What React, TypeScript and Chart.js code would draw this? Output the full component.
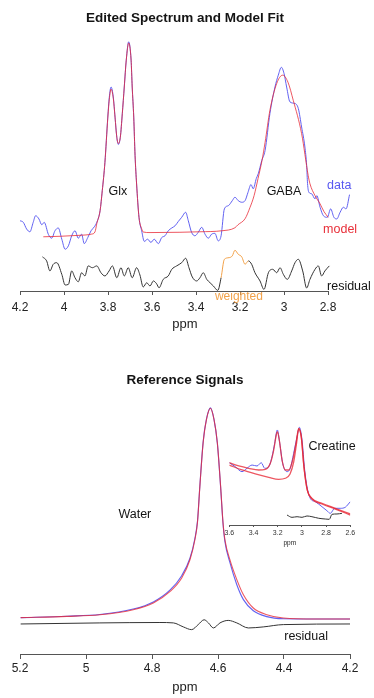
import React, { useEffect, useRef } from "react";
import { Chart, registerables } from "chart.js";

Chart.register(...registerables);

// ---------- Top panel: edited spectrum [ppm, intensity] ----------
const editedData: [number, number][] = [
  [4.2, 6.0], [4.185, 5.2], [4.17, 1.9], [4.155, 0.5], [4.14, 5.2], [4.129, 8.5], [4.114, 6.9], [4.101, 4.0],
  [4.09, 5.2], [4.071, -0.8], [4.056, -2.7], [4.041, 1.0], [4.026, 2.4], [4.01, -3.2], [3.995, -8.2], [3.98, -6.5],
  [3.965, -1.5], [3.95, 1.0], [3.935, -2.7], [3.92, -0.7], [3.908, -5.4], [3.892, -2.4], [3.877, 1.0], [3.862, 3.0],
  [3.851, 5.2], [3.836, 11], [3.826, 21], [3.814, 35], [3.801, 57.6], [3.794, 67.6], [3.786, 72.6], [3.776, 67.6],
  [3.768, 57.6], [3.76, 47.6], [3.753, 44], [3.744, 47.6], [3.735, 59.3], [3.726, 72.6], [3.717, 86], [3.706, 95.1],
  [3.695, 86], [3.69, 72.6], [3.683, 57.6], [3.677, 38.5], [3.67, 24.3], [3.659, 7.6], [3.647, 1.0], [3.635, -4.3],
  [3.62, -3.2], [3.605, -4.8], [3.59, -3.2], [3.571, -5.4], [3.556, -2.4], [3.541, -1.5], [3.526, 1.0], [3.51, 2.4],
  [3.495, 3.5], [3.48, 5.7], [3.465, 7.7], [3.447, 10.2], [3.435, 6.0], [3.42, 0.2], [3.405, -1.5], [3.39, 0.2],
  [3.374, 2.7], [3.359, -0.7], [3.344, -2.7], [3.329, -0.7], [3.314, -0.3], [3.299, -4.0], [3.286, -1.5], [3.271, 11.9],
  [3.253, 13.5], [3.235, 16], [3.223, 17.7], [3.208, 16], [3.192, 15.2], [3.177, 16], [3.164, 20], [3.15, 24],
  [3.14, 21.9], [3.126, 27], [3.117, 29.4], [3.101, 36], [3.086, 41], [3.064, 59.4], [3.041, 72.6], [3.026, 78.5],
  [3.012, 82.4], [3.0, 79.4], [2.988, 72.6], [2.973, 65.2], [2.95, 64.4], [2.935, 61.9], [2.92, 52.7], [2.905, 42.7],
  [2.897, 33.5], [2.893, 24.5], [2.887, 20.2], [2.874, 19.4], [2.859, 16.9], [2.851, 18.5], [2.836, 12.7], [2.821, 8.5],
  [2.803, 7.7], [2.788, 11.9], [2.773, 7.7], [2.76, 6.9], [2.745, 10.2], [2.73, 12.7], [2.718, 11.9], [2.702, 19],
];

const editedModel: [number, number][] = [
  [4.094, -2.0], [4.018, -1.75], [3.927, -1.25], [3.874, -0.65], [3.859, 0.5], [3.851, 4.5], [3.836, 11], [3.826, 21],
  [3.814, 35], [3.801, 57], [3.794, 66.5], [3.786, 71.5], [3.776, 67], [3.768, 57.6], [3.76, 47.6], [3.753, 44.5],
  [3.744, 47.6], [3.735, 59.3], [3.726, 72.6], [3.717, 86], [3.706, 94.5], [3.695, 86], [3.69, 72.6], [3.683, 57.6],
  [3.677, 38.5], [3.67, 24.3], [3.659, 7.6], [3.647, 2.0], [3.64, 0.4], [3.609, 0.1], [3.473, 0.25], [3.382, 0.5],
  [3.283, 1.0], [3.223, 2.5], [3.209, 4], [3.177, 7], [3.155, 12.5], [3.136, 18.5], [3.118, 27], [3.1, 36],
  [3.086, 45], [3.064, 61], [3.033, 74.4], [3.006, 78.5], [2.982, 75], [2.958, 66], [2.92, 49.4], [2.89, 28.5],
  [2.882, 24.4], [2.859, 18.5], [2.836, 14.4], [2.818, 10.5], [2.799, 7.7],
];

const editedResidual: [number, number][] = [
  [4.098, -12], [4.079, -14], [4.064, -19], [4.049, -15.7], [4.033, -14.9], [4.01, -20.7], [3.995, -26], [3.98, -25.7],
  [3.965, -19], [3.95, -22.4], [3.935, -24.4], [3.92, -19.9], [3.905, -21.5], [3.89, -16.5], [3.871, -17.4], [3.851, -16.5],
  [3.832, -19.9], [3.814, -21.5], [3.795, -19], [3.78, -16.5], [3.76, -22.4], [3.741, -17.4], [3.726, -21.5], [3.708, -17.4],
  [3.69, -22.4], [3.67, -17.4], [3.655, -21], [3.64, -27], [3.624, -24.9], [3.609, -26.5], [3.594, -24], [3.579, -25.4],
  [3.568, -27.4], [3.549, -23.2], [3.526, -21.5], [3.51, -18.2], [3.488, -16.5], [3.465, -14.9], [3.447, -12.7], [3.432, -17.4],
  [3.417, -22], [3.397, -24], [3.382, -22.4], [3.367, -19.9], [3.351, -23.2], [3.336, -24.9], [3.321, -26.5], [3.301, -28.7],
  [3.286, -22.4], [3.271, -13.2], [3.25, -12.4], [3.235, -11.5], [3.223, -8.7], [3.208, -10.7], [3.192, -12], [3.177, -15.7],
  [3.162, -14], [3.147, -15.7], [3.132, -19.9], [3.109, -24], [3.091, -28.2], [3.071, -19.9], [3.051, -18.2], [3.033, -19.9],
  [3.018, -17.4], [3.003, -20.7], [2.985, -23.2], [2.965, -19], [2.95, -14.9], [2.935, -13.2], [2.915, -19], [2.897, -27.5],
  [2.882, -23.2], [2.859, -18.2], [2.844, -16.5], [2.829, -21.5], [2.814, -19], [2.794, -16.5],
];

const editedTicks = [4.2, 4, 3.8, 3.6, 3.4, 3.2, 3, 2.8];
const editedTickLabels = ["4.2", "4", "3.8", "3.6", "3.4", "3.2", "3", "2.8"];
const weightedRange = [3.16, 3.29];

// ---------- Bottom panel: water reference ----------
const waterData: [number, number][] = [
  [5.198, 0.3], [5.058, 1.0], [4.958, 1.8], [4.857, 4.4], [4.796, 7.8], [4.745, 13.5], [4.71, 20.3], [4.685, 28.6],
  [4.67, 38], [4.662, 46.5], [4.655, 63], [4.645, 84], [4.635, 94.8], [4.623, 100.2], [4.612, 94.6], [4.602, 83.4],
  [4.592, 62.3], [4.585, 45.5], [4.579, 36.5], [4.564, 26.6], [4.543, 16], [4.523, 8.9], [4.493, 3.6], [4.452, 0.8],
  [4.402, -0.2], [4.301, -0.33], [4.2, -0.33],
];
const waterModel: [number, number][] = [
  [5.198, 0.3], [5.058, 0.9], [4.958, 1.7], [4.857, 4.1], [4.796, 7.3], [4.745, 12.8], [4.71, 19.2], [4.685, 27.9],
  [4.67, 37.4], [4.662, 46], [4.655, 62.7], [4.645, 83.6], [4.635, 94.6], [4.623, 100], [4.612, 94.6], [4.602, 83.6],
  [4.592, 62.7], [4.585, 46], [4.579, 37.4], [4.564, 27.9], [4.543, 18.4], [4.523, 11.2], [4.493, 4.9], [4.452, 1.7],
  [4.402, 0.14], [4.301, -0.33], [4.2, -0.33],
];
const waterResidual: [number, number][] = [
  [5.198, -2.7], [4.958, -2.2], [4.776, -2.0], [4.735, -2.2], [4.705, -4.1], [4.68, -5.4], [4.66, -3.0], [4.642, -0.7],
  [4.629, -2.2], [4.614, -4.6], [4.594, -2.2], [4.569, -1.0], [4.543, -2.2], [4.508, -4.6], [4.463, -4.1], [4.402, -3.0],
  [4.2, -2.7],
];
const waterTicks = [5.2, 5, 4.8, 4.6, 4.4, 4.2];
const waterTickLabels = ["5.2", "5", "4.8", "4.6", "4.4", "4.2"];

// ---------- Inset: creatine reference ----------
const creatineData: [number, number][] = [
  [3.6, 59.3], [3.55, 55.5], [3.495, 50.8], [3.454, 54.0], [3.412, 57.1], [3.371, 56.2], [3.336, 59.3], [3.307, 54.0],
  [3.274, 55.5], [3.247, 65.0], [3.225, 77.8], [3.203, 90.5], [3.183, 77.8], [3.159, 58.8], [3.123, 50.8], [3.096, 54.0],
  [3.068, 68.3], [3.04, 84.1], [3.021, 93.0], [2.999, 81.0], [2.977, 52.4], [2.958, 36.5], [2.931, 25.4], [2.889, 22.2],
  [2.834, 17.4], [2.793, 13.6], [2.765, 11.1], [2.729, 15.9], [2.683, 15.9], [2.641, 16.9], [2.623, 19.0], [2.6, 22.2],
];
const creatineModel: [number, number][] = [
  [3.6, 59.3], [3.522, 56.2], [3.44, 54.0], [3.357, 52.4], [3.302, 53.0], [3.261, 58.8], [3.233, 71.4], [3.212, 85.7],
  [3.203, 88.9], [3.187, 81.0], [3.164, 61.9], [3.137, 52.4], [3.109, 52.4], [3.076, 61.9], [3.049, 77.8], [3.026, 92.1],
  [3.005, 84.1], [2.983, 55.5], [2.955, 33.3], [2.917, 25.4], [2.834, 20.7], [2.724, 15.9], [2.6, 10.5],
];
const creatineOnly: [number, number][] = [
  [3.6, 57.1], [3.495, 52.4], [3.385, 48.6], [3.274, 45.4], [3.192, 43.5], [3.137, 44.5], [3.098, 48.6], [3.068, 60.0],
  [3.046, 76.2], [3.026, 91.4], [3.005, 83.3], [2.983, 54.8], [2.955, 32.9], [2.917, 24.8], [2.834, 20.0], [2.724, 15.2],
  [2.6, 9.5],
];
const creatineResidual: [number, number][] = [
  [3.123, 9.5], [3.082, 7.3], [3.04, 7.9], [2.999, 7.3], [2.958, 8.6], [2.917, 7.9], [2.861, 6.4], [2.807, 5.7],
  [2.774, 5.4], [2.751, 10.2], [2.71, 10.5], [2.669, 11.1],
];
const creatineTicks = [3.6, 3.4, 3.2, 3, 2.8, 2.6];
const creatineTickLabels = ["3.6", "3.4", "3.2", "3", "2.8", "2.6"];

// ---------- styling ----------
const FONT = "'Liberation Sans', Arial, Helvetica, sans-serif";
const BLUE = "rgba(88,88,240,0.95)";
const RED = "rgba(232,40,52,0.78)";
const BLACK = "#333333";
const ORANGE = "#f2a24a";
const TEXT = "#141414";

const pts = (arr: [number, number][]) => arr.map(([x, y]) => ({ x, y }));

const textLabelsPlugin = {
  id: "textLabels",
  afterDatasetsDraw(chart: any, _args: any, opts: any) {
    const { ctx, scales } = chart;
    ctx.save();
    for (const it of opts.items || []) {
      ctx.font = `${it.weight || "normal"} ${it.size}px ${FONT}`;
      ctx.fillStyle = it.color || TEXT;
      ctx.textAlign = "center";
      ctx.textBaseline = "middle";
      ctx.fillText(it.text, scales.x.getPixelForValue(it.x), scales.y.getPixelForValue(it.y));
    }
    ctx.restore();
  },
};

const axisLinePlugin = {
  id: "axisLine",
  afterDraw(chart: any, _args: any, opts: any) {
    if (opts.from === undefined) return;
    const { ctx, scales, chartArea } = chart;
    const y = Math.round(chartArea.bottom) + 0.5;
    ctx.save();
    ctx.strokeStyle = "#555";
    ctx.lineWidth = 1;
    ctx.beginPath();
    ctx.moveTo(scales.x.getPixelForValue(opts.from), y);
    ctx.lineTo(scales.x.getPixelForValue(opts.to), y);
    ctx.stroke();
    ctx.restore();
  },
};

function xAxis(min: number, max: number, ticks: number[], labels: string[], o: any) {
  return {
    type: "linear",
    position: "bottom",
    reverse: true,
    min,
    max,
    afterBuildTicks: (axis: any) => {
      axis.ticks = ticks.map((v) => ({ value: v }));
    },
    border: { display: o.border, color: "#555", width: 1 },
    grid: { drawOnChartArea: false, drawTicks: true, tickLength: o.tickLength, color: "#555", lineWidth: 1 },
    ticks: {
      color: o.tickColor || "#222",
      padding: o.tickPadding,
      maxRotation: 0,
      autoSkip: false,
      font: { family: FONT, size: o.tickSize },
      callback: (v: number) => {
        const i = ticks.findIndex((t) => Math.abs(t - v) < 1e-6);
        return i >= 0 ? labels[i] : "";
      },
    },
    title: {
      display: true,
      text: "ppm",
      color: "#222",
      font: { family: FONT, size: o.titleSize, lineHeight: o.titleLH },
      padding: { top: o.titleTop, bottom: 0 },
    },
  };
}

function line(data: [number, number][], color: any, width = 1, extra: any = {}) {
  return {
    data: pts(data),
    borderColor: color,
    borderWidth: width,
    pointRadius: 0,
    fill: false,
    cubicInterpolationMode: "monotone",
    ...extra,
  };
}

function buildTop(): any {
  return {
    type: "line",
    data: {
      datasets: [
        line(editedModel, RED),
        line(editedData, BLUE),
        line(editedResidual, BLACK, 1, {
          segment: {
            borderColor: (c: any) => {
              const a = c.p0.parsed.x;
              const b = c.p1.parsed.x;
              return Math.min(a, b) >= weightedRange[0] && Math.max(a, b) <= weightedRange[1] ? ORANGE : BLACK;
            },
          },
        }),
      ],
    },
    options: {
      responsive: false,
      animation: false,
      events: [],
      layout: { padding: { left: 20, right: 24, top: 0, bottom: 10.2 } },
      scales: {
        x: xAxis(2.7, 4.2, editedTicks, editedTickLabels, {
          border: false, tickLength: 4, tickPadding: 5, tickSize: 12, titleSize: 13, titleLH: 0.8, titleTop: 0,
        }),
        y: { display: false, min: -29, max: 101 },
      },
      plugins: {
        legend: { display: false },
        tooltip: { enabled: false },
        title: {
          display: true,
          text: "Edited Spectrum and Model Fit",
          color: TEXT,
          font: { family: FONT, size: 13.5, weight: "bold", lineHeight: 1.2 },
          padding: { top: 9.9, bottom: 3.9 },
        },
        axisLine: { from: 4.2, to: 2.8 },
        textLabels: {
          items: [
            { text: "Glx", x: 3.755, y: 20.6, size: 12.5 },
            { text: "GABA", x: 3.0, y: 20.6, size: 12.5 },
            { text: "data", x: 2.749, y: 23.5, size: 12.5, color: "#5858f0" },
            { text: "model", x: 2.745, y: 1.5, size: 12.5, color: "#e8303a" },
            { text: "residual", x: 2.705, y: -26.9, size: 12.5 },
            { text: "weighted", x: 3.205, y: -32, size: 12, color: ORANGE },
          ],
        },
      },
    },
    plugins: [textLabelsPlugin, axisLinePlugin],
  };
}

function buildBottom(): any {
  return {
    type: "line",
    data: {
      datasets: [line(waterModel, RED, 1.1), line(waterData, BLUE, 1.1), line(waterResidual, BLACK)],
    },
    options: {
      responsive: false,
      animation: false,
      events: [],
      layout: { padding: { left: 20, right: 24, top: 0, bottom: 2.8 } },
      scales: {
        x: xAxis(4.2, 5.2, waterTicks, waterTickLabels, {
          border: true, tickLength: 5, tickPadding: 2.5, tickSize: 12, titleSize: 13, titleLH: 1.2, titleTop: 1.2,
        }),
        y: { display: false, min: -17, max: 104 },
      },
      plugins: {
        legend: { display: false },
        tooltip: { enabled: false },
        title: {
          display: true,
          text: "Reference Signals",
          color: TEXT,
          font: { family: FONT, size: 13.5, weight: "bold", lineHeight: 1.2 },
          padding: { top: 22.9, bottom: 11.8 },
        },
        textLabels: {
          items: [
            { text: "Water", x: 4.852, y: 49.3, size: 12.5 },
            { text: "residual", x: 4.333, y: -8.8, size: 12.5 },
          ],
        },
      },
    },
    plugins: [textLabelsPlugin],
  };
}

function buildInset(): any {
  return {
    type: "line",
    data: {
      datasets: [
        line(creatineModel, RED, 1.3),
        line(creatineOnly, RED, 1.3),
        line(creatineData, BLUE),
        line(creatineResidual, BLACK),
      ],
    },
    options: {
      responsive: false,
      animation: false,
      events: [],
      layout: { padding: { left: 14.3, right: 9.7, top: 10, bottom: 7.6 } },
      scales: {
        x: xAxis(2.6, 3.6, creatineTicks, creatineTickLabels, {
          border: true, tickLength: 2, tickPadding: 2.1, tickSize: 7, titleSize: 6.5, titleLH: 1.2, titleTop: 0,
          tickColor: "#333",
        }),
        y: { display: false, min: 0, max: 100 },
      },
      plugins: {
        legend: { display: false },
        tooltip: { enabled: false },
        title: { display: false },
        textLabels: {
          items: [{ text: "Creatine", x: 2.751, y: 74.6, size: 12.5 }],
        },
      },
    },
    plugins: [textLabelsPlugin],
  };
}

function ChartCanvas({ build, left, top, width, height }: any) {
  const ref = useRef<HTMLCanvasElement>(null);
  useEffect(() => {
    const chart = new Chart(ref.current as HTMLCanvasElement, build());
    return () => chart.destroy();
  }, []);
  return (
    <canvas
      ref={ref}
      width={width}
      height={height}
      style={{ position: "absolute", left, top, width, height, display: "block" }}
    />
  );
}

export default function App() {
  return (
    <div style={{ position: "absolute", left: 0, top: 0, width: 374, height: 698, background: "#fff" }}>
      <ChartCanvas build={buildTop} left={0} top={0} width={374} height={340} />
      <ChartCanvas build={buildBottom} left={0} top={349} width={374} height={349} />
      <ChartCanvas build={buildInset} left={215} top={410} width={145} height={145} />
    </div>
  );
}
